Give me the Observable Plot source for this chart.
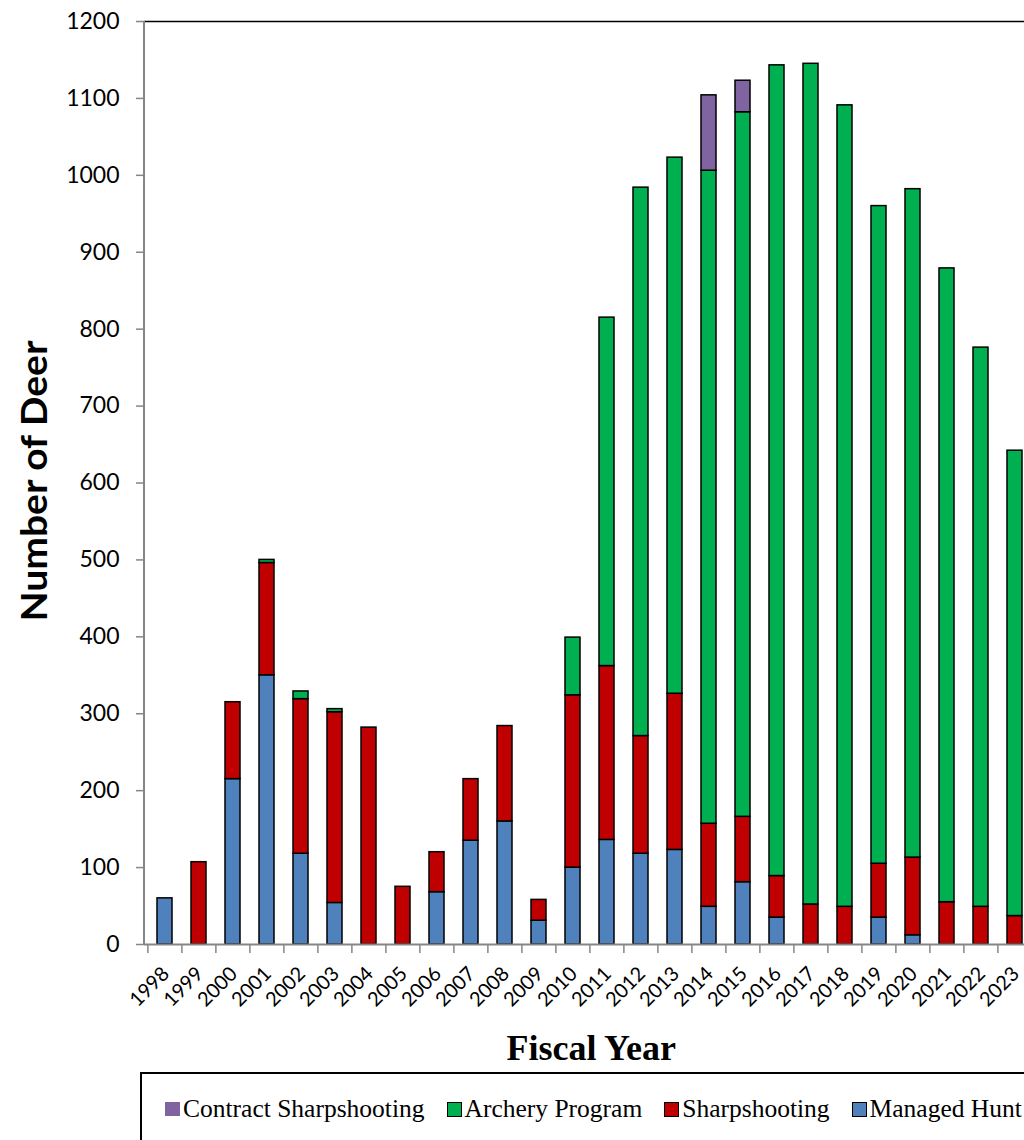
<!DOCTYPE html>
<html><head><meta charset="utf-8">
<script src="https://cdn.jsdelivr.net/npm/d3@7"></script>
<script src="https://cdn.jsdelivr.net/npm/@observablehq/plot@0.6"></script>
<style>
html,body{margin:0;padding:0;background:#fff;overflow:hidden;width:1024px;height:1140px;}
#chart{position:absolute;left:0;top:0;width:1045px;}
#chart svg{max-width:none !important;width:1045px !important;height:1070px !important;}
#legend{position:absolute;left:140px;top:1072px;width:1000px;height:100px;border:2px solid #000;box-sizing:border-box;
  font-family:"Liberation Serif",serif;font-size:25.5px;display:flex;padding:20px 0 0 23px;align-items:flex-start;}
.item{display:flex;align-items:center;height:30px;margin-right:22px;white-space:nowrap;color:#000;}
.sw{width:13px;height:13px;border:1.5px solid #000;margin-right:3px;box-sizing:content-box;}
</style></head><body>
<div id="chart"></div><div id="legend"></div>
<script>
const years = ["1998","1999","2000","2001","2002","2003","2004","2005","2006","2007","2008","2009","2010","2011","2012","2013","2014","2015","2016","2017","2018","2019","2020","2021","2022","2023"];
const seriesNames = ["Managed Hunt","Sharpshooting","Archery Program","Contract Sharpshooting"];
const seriesColors = ["#4F81BD","#C00000","#00B050","#8064A2"];
const managedHunt   = [60,0,215,350,118,54,0,0,68,135,160,31,100,136,118,123,49,81,35,0,0,35,12,0,0,0];
const sharpshooting = [0,107,100,146,201,248,282,75,52,80,124,27,224,226,153,203,108,85,54,52,49,70,101,55,49,37];
const archery       = [0,0,0,4,10,4,0,0,0,0,0,0,75,453,713,697,849,916,1054,1093,1042,855,869,824,727,605];
const contract      = [0,0,0,0,0,0,0,0,0,0,0,0,0,0,0,0,98,41,0,0,0,0,0,0,0,0];
const yTicks = [0,100,200,300,400,500,600,700,800,900,1000,1100,1200];
const legendOrder = ["Contract Sharpshooting","Archery Program","Sharpshooting","Managed Hunt"];
const yTitle = "Number of Deer";
const xTitle = "Fiscal Year";

const table = [];
years.forEach((yr, i) => {
  const vals = [managedHunt[i], sharpshooting[i], archery[i], contract[i]];
  seriesNames.forEach((s, j) => { if (vals[j] > 0) table.push({year: yr, series: s, value: vals[j]}); });
});

const W = 1045, H = 1070, ML = 144, MR = W - 1034.5, MT = 21, MB = H - 944;
const step = (W - ML - MR) / years.length;

const plot = Plot.plot({
  width: W, height: H, marginLeft: ML, marginRight: MR, marginTop: MT, marginBottom: MB,
  style: {fontFamily: "Lato, sans-serif", color: "#000", background: "#fff", overflow: "visible", maxWidth: "none"},
  x: {type: "band", domain: years, paddingInner: 0.562, paddingOuter: 0.281, label: null},
  y: {domain: [0, 1200], label: null},
  color: {domain: seriesNames, range: seriesColors},
  marks: [
    Plot.ruleY([1200], {stroke: "#000", strokeWidth: 1.5}),
    Plot.barY(table, Plot.stackY({x: "year", y: "value", fill: "series", order: seriesNames, stroke: "#000", strokeWidth: 1.5})),
    Plot.ruleY([0], {stroke: "#868686", strokeWidth: 2}),
    Plot.axisY({ticks: yTicks, tickSize: 8, tickPadding: 17, fontSize: 23, stroke: "#868686", strokeWidth: 1.5, strokeOpacity: 1, label: null, tickFormat: d => String(d)}),
    Plot.axisX({tickSize: 9, dx: -step / 2, stroke: "#868686", strokeWidth: 1.5, strokeOpacity: 1, label: null, tickFormat: () => ""}),
    Plot.axisX({tickSize: 0, tickRotate: -45, fontSize: 20, label: null, tickPadding: 26, dx: 1})
  ]
});
plot.style.maxWidth = "none";

const svg = d3.select(plot);
// left axis line
svg.append("line").attr("x1", ML).attr("x2", ML).attr("y1", MT).attr("y2", 944)
  .attr("stroke", "#868686").attr("stroke-width", 2);
svg.append("text").text(yTitle)
  .attr("transform", "translate(47,481) rotate(-90)")
  .attr("text-anchor", "middle")
  .attr("font-family", "Lato, sans-serif").attr("font-weight", "bold").attr("font-size", 36)
  .attr("textLength", 281).attr("lengthAdjust", "spacingAndGlyphs").attr("fill", "#000");
svg.append("text").text(xTitle)
  .attr("x", (ML + 1034.5) / 2 + 2).attr("y", 1060)
  .attr("text-anchor", "middle")
  .attr("font-family", "'Liberation Serif', serif").attr("font-weight", "bold").attr("font-size", 36)
  .attr("fill", "#000");
document.getElementById("chart").appendChild(plot);

const legend = document.getElementById("legend");
legendOrder.forEach(name => {
  const idx = seriesNames.indexOf(name);
  const item = document.createElement("div");
  item.className = "item";
  const sw = document.createElement("span");
  sw.className = "sw";
  sw.style.background = seriesColors[idx];
  if (name === "Contract Sharpshooting") { sw.style.border = "none"; sw.style.width = "15px"; sw.style.height = "14px"; }
  const tx = document.createElement("span");
  tx.textContent = name;
  item.appendChild(sw); item.appendChild(tx);
  legend.appendChild(item);
});
</script>
</body></html>
